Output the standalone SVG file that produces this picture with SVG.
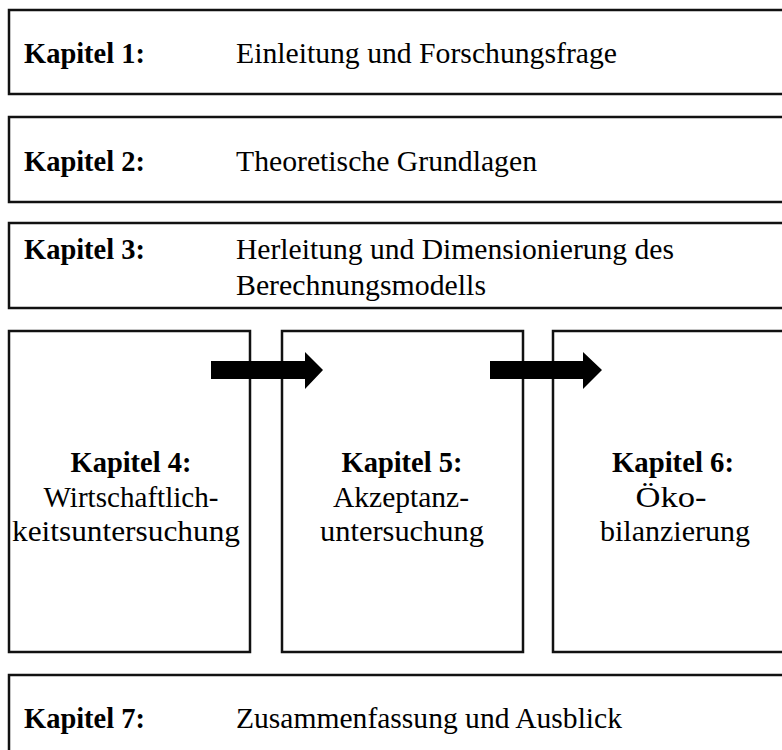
<svg xmlns="http://www.w3.org/2000/svg" width="782" height="750" viewBox="0 0 782 750">
<style>
.box{fill:#fff;stroke:#111;stroke-width:2.5}
.b{font-family:"Liberation Serif","Times New Roman",serif;font-weight:bold;font-size:29px;fill:#000}
.r{font-family:"Liberation Serif","Times New Roman",serif;font-size:30px;fill:#000}
.c{text-anchor:middle}
.arrow{fill:#000}
</style>
<rect width="782" height="750" fill="#fff"/>
<g id="kapitel1">
<rect class="box" x="9" y="10" width="800" height="84"/>
<text class="b" x="24" y="63" textLength="121" lengthAdjust="spacingAndGlyphs">Kapitel 1:</text>
<text class="r" x="236" y="63" textLength="381" lengthAdjust="spacingAndGlyphs">Einleitung und Forschungsfrage</text>
</g>
<g id="kapitel2">
<rect class="box" x="9" y="117" width="800" height="85"/>
<text class="b" x="24" y="171" textLength="121" lengthAdjust="spacingAndGlyphs">Kapitel 2:</text>
<text class="r" x="236" y="171" textLength="301" lengthAdjust="spacingAndGlyphs">Theoretische Grundlagen</text>
</g>
<g id="kapitel3">
<rect class="box" x="9" y="223" width="800" height="85"/>
<text class="b" x="24" y="259" textLength="121" lengthAdjust="spacingAndGlyphs">Kapitel 3:</text>
<text class="r" x="236" y="259" textLength="438" lengthAdjust="spacingAndGlyphs">Herleitung und Dimensionierung des</text>
<text class="r" x="236" y="295" textLength="250" lengthAdjust="spacingAndGlyphs">Berechnungsmodells</text>
</g>
<g id="kapitel4">
<rect class="box" x="9" y="331" width="241" height="321"/>
<text class="b c" x="131" y="472" textLength="121" lengthAdjust="spacingAndGlyphs">Kapitel 4:</text>
<text class="r c" x="131" y="507" textLength="175" lengthAdjust="spacingAndGlyphs">Wirtschaftlich-</text>
<text class="r c" x="126" y="541" textLength="228" lengthAdjust="spacingAndGlyphs">keitsuntersuchung</text>
</g>
<g id="kapitel5">
<rect class="box" x="282" y="331" width="241" height="321"/>
<text class="b c" x="402" y="472" textLength="121" lengthAdjust="spacingAndGlyphs">Kapitel 5:</text>
<text class="r c" x="401" y="507" textLength="136" lengthAdjust="spacingAndGlyphs">Akzeptanz-</text>
<text class="r c" x="402" y="541" textLength="164" lengthAdjust="spacingAndGlyphs">untersuchung</text>
</g>
<g id="kapitel6">
<rect class="box" x="553" y="331" width="260" height="321"/>
<text class="b c" x="673" y="472" textLength="122" lengthAdjust="spacingAndGlyphs">Kapitel 6:</text>
<text class="r c" x="671" y="507" textLength="71" lengthAdjust="spacingAndGlyphs">Öko-</text>
<text class="r c" x="675" y="541" textLength="150" lengthAdjust="spacingAndGlyphs">bilanzierung</text>
</g>
<g id="kapitel7">
<rect class="box" x="9" y="675" width="800" height="100"/>
<text class="b" x="24" y="728" textLength="121" lengthAdjust="spacingAndGlyphs">Kapitel 7:</text>
<text class="r" x="236" y="728" textLength="386" lengthAdjust="spacingAndGlyphs">Zusammenfassung und Ausblick</text>
</g>
<g id="connectors">
<polygon class="arrow" points="211,361 305,361 305,352 323,370 305,389 305,379 211,379"/>
<polygon class="arrow" points="490,361 583,361 583,352 602,370 583,389 583,379 490,379"/>
</g>
</svg>
